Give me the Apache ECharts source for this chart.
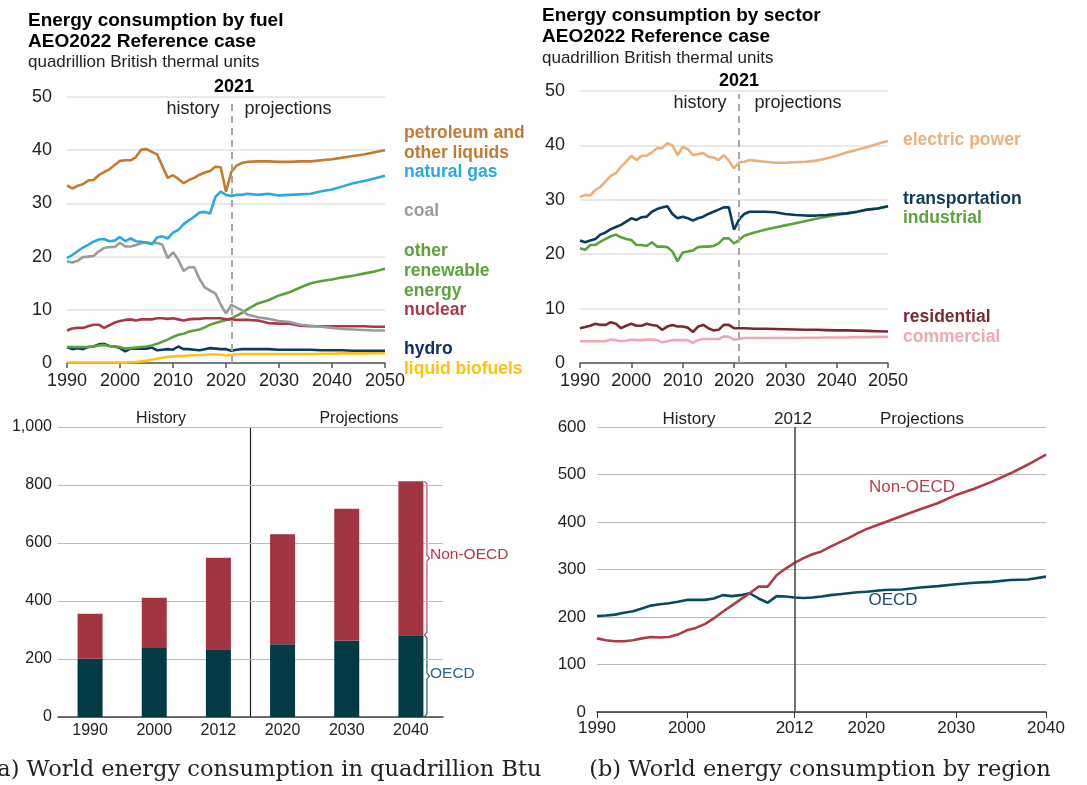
<!DOCTYPE html>
<html>
<head>
<meta charset="utf-8">
<script src="https://cdn.jsdelivr.net/npm/echarts@6/dist/echarts.min.js"></script>
<style>
  html, body { margin: 0; padding: 0; background: #fff; }
  #main { width: 1087px; height: 785px; }
</style>
</head>
<body>
<div id="main"></div>
<script>
// years shared by both AEO2022 panels
var aeoYears = [1990,1991,1992,1993,1994,1995,1996,1997,1998,1999,2000,2001,2002,2003,2004,2005,2006,2007,2008,2009,
  2010,2011,2012,2013,2014,2015,2016,2017,2018,2019,2020,2021,2022,2023,2024,
  2026,2028,2030,2032,2034,2036,2038,2040,2042,2044,2046,2048,2050];

// energy consumption by fuel
var petroleum = [33.4,32.8,33.3,33.6,34.3,34.4,35.3,35.9,36.4,37.2,38.0,38.1,38.1,38.7,40.1,40.2,39.7,39.2,37.0,34.8,
  35.3,34.6,33.8,34.4,34.8,35.4,35.8,36.1,36.9,36.8,32.2,35.9,37.1,37.6,37.8,
  37.9,37.9,37.8,37.8,37.9,37.9,38.1,38.3,38.6,38.9,39.2,39.6,40.0];
var naturalGas = [19.7,20.3,21.0,21.7,22.2,22.8,23.2,23.3,22.9,23.0,23.7,22.9,23.4,22.9,22.8,22.6,22.3,23.6,23.8,23.4,
  24.5,25.0,26.1,26.8,27.5,28.3,28.4,28.1,31.2,32.2,31.6,31.4,31.6,31.6,31.8,
  31.6,31.8,31.5,31.6,31.7,31.8,32.3,32.6,33.2,33.8,34.2,34.7,35.2];
var coal = [19.1,18.9,19.2,19.9,20.0,20.1,21.0,21.6,21.8,21.8,22.6,21.9,21.9,22.2,22.5,22.7,22.5,22.6,22.2,19.7,
  20.8,19.4,17.3,18.0,18.0,15.8,14.2,13.6,13.1,11.0,9.3,10.9,10.4,9.9,9.1,
  8.6,8.3,7.9,7.7,7.2,7.0,6.8,6.6,6.4,6.3,6.2,6.1,6.1];
var renewable = [3.0,3.0,3.0,3.0,3.0,3.1,3.3,3.4,3.2,3.1,3.0,2.7,2.8,2.9,3.0,3.1,3.3,3.6,4.0,4.4,
  4.9,5.3,5.5,5.9,6.1,6.3,6.7,7.2,7.5,7.8,8.1,8.4,8.9,9.4,10.1,
  11.2,11.8,12.7,13.3,14.2,15.0,15.4,15.7,16.1,16.4,16.8,17.2,17.7];
var nuclear = [6.1,6.5,6.6,6.6,6.9,7.2,7.2,6.6,7.1,7.6,7.9,8.1,8.2,8.0,8.2,8.2,8.2,8.4,8.4,8.3,
  8.4,8.2,8.0,8.2,8.3,8.3,8.4,8.4,8.4,8.4,8.2,8.2,8.1,8.1,8.1,
  8.0,7.5,7.4,7.4,7.0,6.9,6.9,6.9,6.9,6.9,6.9,6.8,6.8];
var hydro = [3.0,2.6,2.8,2.6,3.0,3.1,3.5,3.6,3.2,3.1,2.8,2.2,2.7,2.7,2.7,2.7,2.9,2.4,2.5,2.6,
  2.5,3.1,2.6,2.6,2.5,2.4,2.6,2.8,2.7,2.6,2.6,2.3,2.5,2.6,2.6,
  2.6,2.6,2.5,2.5,2.5,2.5,2.4,2.4,2.4,2.3,2.3,2.3,2.3];
var biofuels = [0.1,0.1,0.1,0.1,0.1,0.1,0.1,0.1,0.1,0.1,0.1,0.1,0.15,0.2,0.3,0.4,0.6,0.8,1.0,1.15,
  1.25,1.3,1.3,1.4,1.45,1.5,1.55,1.6,1.6,1.55,1.4,1.55,1.65,1.7,1.7,
  1.7,1.7,1.7,1.7,1.7,1.7,1.75,1.75,1.8,1.8,1.8,1.85,1.85];

// energy consumption by sector
var electricPower = [30.5,30.9,30.8,31.8,32.4,33.4,34.4,34.9,36.1,37.0,38.1,37.3,38.1,38.1,38.7,39.5,39.5,40.4,40.0,38.2,
  39.7,39.3,38.2,38.4,38.6,37.9,37.8,37.3,38.2,37.2,35.8,36.9,37.0,37.3,37.2,
  37.0,36.8,36.8,36.9,37.0,37.2,37.6,38.1,38.7,39.2,39.7,40.3,40.8];
var transportation = [22.5,22.2,22.5,22.8,23.6,24.0,24.6,25.0,25.4,26.0,26.6,26.3,26.8,26.9,27.8,28.3,28.6,28.8,27.4,26.6,
  26.9,26.6,26.2,26.6,26.9,27.4,27.8,28.2,28.6,28.6,24.5,26.4,27.4,27.8,27.8,
  27.8,27.7,27.4,27.2,27.1,27.1,27.2,27.4,27.5,27.8,28.2,28.4,28.8];
var industrial = [21.1,20.8,21.7,21.7,22.3,22.8,23.3,23.6,23.1,22.8,22.6,21.7,21.7,21.5,22.2,21.4,21.4,21.3,20.5,18.7,
  20.3,20.5,20.7,21.3,21.4,21.4,21.5,22.0,22.9,22.9,22.0,22.6,23.4,23.7,24.0,
  24.5,24.9,25.3,25.7,26.1,26.5,26.9,27.2,27.5,27.8,28.2,28.4,28.8];
var residential = [6.4,6.6,6.85,7.2,7.0,7.0,7.5,7.2,6.4,6.85,7.2,6.85,6.85,7.2,7.0,6.85,6.1,6.7,7.0,6.7,
  6.7,6.5,5.7,6.7,7.0,6.4,6.0,6.1,7.0,7.0,6.4,6.4,6.4,6.35,6.3,
  6.3,6.25,6.2,6.15,6.1,6.1,6.05,6.0,6.0,5.95,5.9,5.85,5.8];
var commercial = [4.0,4.0,4.0,4.0,4.0,4.0,4.3,4.2,4.0,4.1,4.3,4.2,4.2,4.3,4.3,4.2,3.8,4.0,4.2,4.2,
  4.2,4.2,3.7,4.2,4.4,4.4,4.4,4.4,4.9,4.8,4.3,4.4,4.6,4.6,4.6,
  4.6,4.6,4.6,4.6,4.65,4.65,4.7,4.7,4.7,4.75,4.75,4.8,4.8];

// world energy consumption, quadrillion Btu (bars)
var barYears = ['1990', '2000', '2012', '2020', '2030', '2040'];
var barOecd = [201, 238, 234, 251, 264, 282];
var barNonOecd = [155, 173, 315, 379, 454, 531];

// world energy consumption by region (lines)
var regionYears = [1990,1991,1992,1993,1994,1995,1996,1997,1998,1999,2000,2001,2002,2003,2004,2005,2006,2007,2008,2009,
  2010,2011,2012,2013,2014,2015,2016,2017,2018,2019,2020,2022,2024,2026,2028,2030,2032,2034,2036,2038,2040];
var regionNonOecd = [155,151,149,149,151,155,158,157,158,163,172,177,185,197,211,224,237,250,264,264,
  288,302,314,324,332,338,348,357,366,376,385,399,413,427,440,457,470,485,502,521,542];
var regionOecd = [202,203,205,209,212,218,224,227,229,232,236,236,236,239,246,244,246,250,239,230,
  244,243,241,240,241,243,246,248,250,252,253,257,258,262,265,269,272,274,278,279,285];
var regionTicks = [1990, 2000, 2012, 2020, 2030, 2040];

var SANS = '"Liberation Sans", Arial, sans-serif';
var plain = function (v) { return String(v); };

function pairs(xs, ys) {
    return xs.map(function (x, i) { return [x, ys[i]]; });
}

function lineSeries(name, values, years, color, idx, extra) {
    var s = {
        type: 'line',
        name: name,
        xAxisIndex: idx,
        yAxisIndex: idx,
        data: pairs(years, values),
        symbol: 'none',
        lineStyle: { color: color, width: 2.6 },
        itemStyle: { color: color },
        silent: true
    };
    for (var k in extra) s[k] = extra[k];
    return s;
}

function dashed2021() {
    return {
        silent: true,
        symbol: 'none',
        label: { show: false },
        lineStyle: { color: '#a8a8a8', type: [7, 5], width: 2 },
        data: [[{ coord: [2021, 0] }, { coord: [2021, 49.4] }]]
    };
}

function aeoX(idx) {
    return {
        gridIndex: idx, type: 'value', min: 1990, max: 2050, interval: 10,
        axisLine: { lineStyle: { color: '#555', width: 1.5 } },
        axisTick: { length: 5, lineStyle: { color: '#555', width: 1.5 } },
        axisLabel: { color: '#222', fontSize: 18, fontFamily: SANS, margin: 9, formatter: plain },
        splitLine: { show: false }
    };
}

function aeoY(idx) {
    return {
        gridIndex: idx, type: 'value', min: 0, max: 50, interval: 10,
        axisLine: { show: false }, axisTick: { show: false },
        axisLabel: { color: '#222', fontSize: 18, fontFamily: SANS, margin: 15 },
        splitLine: { lineStyle: { color: '#e2e2e2', width: 1.5 } }
    };
}

function txt(text, x, y, opts) {
    opts = opts || {};
    return {
        type: 'text', silent: true,
        style: {
            text: text, x: x, y: y,
            textAlign: opts.align || 'left',
            textVerticalAlign: 'middle',
            fill: opts.color || '#111',
            font: opts.font || ('17px ' + SANS)
        }
    };
}

var B17 = 'bold 17.5px ' + SANS;
var TB = 'bold 19px ' + SANS;
var SERIF = '22.5px "DejaVu Serif", serif';
var notes = [
    txt('Energy consumption by fuel', 28, 21, { font: TB, color: '#000' }),
    txt('AEO2022 Reference case', 28, 42, { font: TB, color: '#000' }),
    txt('quadrillion British thermal units', 28, 62, { color: '#222' }),
    txt('2021', 234, 87, { align: 'center', font: 'bold 18px ' + SANS, color: '#000' }),
    txt('history', 193, 109, { align: 'center', font: '18px ' + SANS, color: '#222' }),
    txt('projections', 288, 109, { align: 'center', font: '18px ' + SANS, color: '#222' }),
    txt('petroleum and', 404, 133, { font: B17, color: '#c47a33' }),
    txt('other liquids', 404, 153, { font: B17, color: '#c47a33' }),
    txt('natural gas', 404, 172, { font: B17, color: '#27a9e1' }),
    txt('coal', 404, 211, { font: B17, color: '#9a9a9a' }),
    txt('other', 404, 251, { font: B17, color: '#5da23c' }),
    txt('renewable', 404, 271, { font: B17, color: '#5da23c' }),
    txt('energy', 404, 291, { font: B17, color: '#5da23c' }),
    txt('nuclear', 404, 310, { font: B17, color: '#a8394b' }),
    txt('hydro', 404, 349, { font: B17, color: '#0e2f6b' }),
    txt('liquid biofuels', 404, 369, { font: B17, color: '#ffc20e' }),

    txt('Energy consumption by sector', 542, 16, { font: TB, color: '#000' }),
    txt('AEO2022 Reference case', 542, 37, { font: TB, color: '#000' }),
    txt('quadrillion British thermal units', 542, 58, { color: '#222' }),
    txt('2021', 739, 81, { align: 'center', font: 'bold 18px ' + SANS, color: '#000' }),
    txt('history', 700, 103, { align: 'center', font: '18px ' + SANS, color: '#222' }),
    txt('projections', 798, 103, { align: 'center', font: '18px ' + SANS, color: '#222' }),
    txt('electric power', 903, 140, { font: B17, color: '#edb07a' }),
    txt('transportation', 903, 199, { font: B17, color: '#0e3b57' }),
    txt('industrial', 903, 218, { font: B17, color: '#5ba33b' }),
    txt('residential', 903, 317, { font: B17, color: '#7a2a36' }),
    txt('commercial', 903, 337, { font: B17, color: '#f2a7b5' }),

    txt('History', 161, 419, { align: 'center', font: '16px ' + SANS, color: '#222' }),
    txt('Projections', 359, 419, { align: 'center', font: '16px ' + SANS, color: '#222' }),
    txt('Non-OECD', 430, 555, { font: '15.5px ' + SANS, color: '#b23a4a' }),
    txt('OECD', 430, 674, { font: '15.5px ' + SANS, color: '#2b6585' }),

    txt('History', 689, 419, { align: 'center', font: '17px ' + SANS, color: '#222' }),
    txt('2012', 793, 419, { align: 'center', font: '17px ' + SANS, color: '#222' }),
    txt('Projections', 922, 419, { align: 'center', font: '17px ' + SANS, color: '#222' }),
    txt('Non-OECD', 912, 487, { align: 'center', font: '17px ' + SANS, color: '#b5414f' }),
    txt('OECD', 893, 600, { align: 'center', font: '17px ' + SANS, color: '#1c4e66' }),

    txt('(a) World energy consumption in quadrillion Btu', 265, 770, { align: 'center', font: SERIF, color: '#222' }),
    txt('(b) World energy consumption by region', 820, 770, { align: 'center', font: SERIF, color: '#222' })
];

var chart = echarts.init(document.getElementById('main'));

var option = {
    animation: false,
    backgroundColor: '#fff',
    grid: [
        { left: 67, top: 97, width: 318, height: 266 },
        { left: 580, top: 91, width: 308, height: 272 },
        { left: 58, top: 427, width: 385, height: 290 },
        { left: 597, top: 427, width: 449, height: 285 }
    ],
    xAxis: [
        aeoX(0),
        aeoX(1),
        {
            gridIndex: 2, type: 'category', data: barYears,
            axisLine: { lineStyle: { color: '#444', width: 1.5 } },
            axisTick: { length: 5, lineStyle: { color: '#444' } },
            axisLabel: { color: '#222', fontSize: 16, fontFamily: SANS, margin: 6 }
        },
        {
            gridIndex: 3, type: 'value', min: 1990, max: 2040,
            axisLine: { lineStyle: { color: '#333', width: 1.5 } },
            axisTick: { length: 6, customValues: regionTicks, lineStyle: { color: '#333' } },
            axisLabel: { color: '#222', fontSize: 17, fontFamily: SANS, margin: 8, customValues: regionTicks, formatter: plain },
            splitLine: { show: false }
        }
    ],
    yAxis: [
        aeoY(0),
        aeoY(1),
        {
            gridIndex: 2, type: 'value', min: 0, max: 1000, interval: 200,
            axisLine: { show: false }, axisTick: { show: false },
            axisLabel: {
                color: '#222', fontSize: 16, fontFamily: SANS, margin: 6,
                formatter: function (v) { return v >= 1000 ? '1,000' : String(v); }
            },
            splitLine: { lineStyle: { color: '#bdbdbd', width: 1.2 } }
        },
        {
            gridIndex: 3, type: 'value', min: 0, max: 600, interval: 100,
            axisLine: { show: false }, axisTick: { show: false },
            axisLabel: { color: '#222', fontSize: 17, fontFamily: SANS, margin: 11 },
            splitLine: { lineStyle: { color: '#bdbdbd', width: 1.2 } }
        }
    ],
    series: [
        lineSeries('liquid biofuels', biofuels, aeoYears, '#ffc20e', 0),
        lineSeries('hydro', hydro, aeoYears, '#0d3a6b', 0),
        lineSeries('other renewable energy', renewable, aeoYears, '#5aa33a', 0),
        lineSeries('nuclear', nuclear, aeoYears, '#a8394b', 0),
        lineSeries('coal', coal, aeoYears, '#9b9b9b', 0),
        lineSeries('natural gas', naturalGas, aeoYears, '#2aa8e0', 0),
        lineSeries('petroleum and other liquids', petroleum, aeoYears, '#c67a2f', 0, { markLine: dashed2021() }),

        lineSeries('commercial', commercial, aeoYears, '#efa7b3', 1),
        lineSeries('residential', residential, aeoYears, '#7b2832', 1),
        lineSeries('industrial', industrial, aeoYears, '#5aa33a', 1),
        lineSeries('transportation', transportation, aeoYears, '#0b3c5d', 1),
        lineSeries('electric power', electricPower, aeoYears, '#edb07a', 1, { markLine: dashed2021() }),

        {
            type: 'bar', name: 'OECD', stack: 'world', xAxisIndex: 2, yAxisIndex: 2,
            data: barOecd, barWidth: 25, itemStyle: { color: '#033b45' }, silent: true
        },
        {
            type: 'bar', name: 'Non-OECD', stack: 'world', xAxisIndex: 2, yAxisIndex: 2,
            data: barNonOecd, barWidth: 25, itemStyle: { color: '#a33442' }, silent: true
        },

        lineSeries('OECD', regionOecd, regionYears, '#0c4a5e', 3),
        lineSeries('Non-OECD', regionNonOecd, regionYears, '#b03a48', 3, {
            markLine: {
                silent: true, symbol: 'none', label: { show: false },
                lineStyle: { color: '#444', type: 'solid', width: 1.5 },
                data: [[{ coord: [2012, 0] }, { coord: [2012, 600] }]]
            }
        })
    ],
    graphic: notes
};

chart.setOption(option);

// history/projection divider and braces on the bar panel, placed from the axes
var px = function (cat, v) { return chart.convertToPixel({ xAxisIndex: 2, yAxisIndex: 2 }, [cat, v]); };
var divX = (px('2012', 0)[0] + px('2020', 0)[0]) / 2;
var yBase = px('2040', 0)[1];
var yTop = px('2040', 1000)[1];
var yOecd = px('2040', barOecd[5])[1];
var yTotal = px('2040', barOecd[5] + barNonOecd[5])[1];
var bx = px('2040', 0)[0] + 13.5;

function brace(x, y0, y1, color) {
    var m = (y0 + y1) / 2;
    return {
        type: 'polyline', silent: true,
        shape: { points: [[x, y0], [x + 2.5, y0 + 3], [x + 2.5, m - 3], [x + 5, m], [x + 2.5, m + 3], [x + 2.5, y1 - 3], [x, y1]] },
        style: { stroke: color, lineWidth: 1.2, fill: null }
    };
}

chart.setOption({
    graphic: notes.concat([
        { type: 'line', silent: true, shape: { x1: divX, y1: yTop, x2: divX, y2: yBase }, style: { stroke: '#222', lineWidth: 1.2 } },
        brace(bx, yTotal, yOecd, '#c0505f'),
        brace(bx, yOecd, yBase, '#1f5f7f')
    ])
});
</script>
</body>
</html>
